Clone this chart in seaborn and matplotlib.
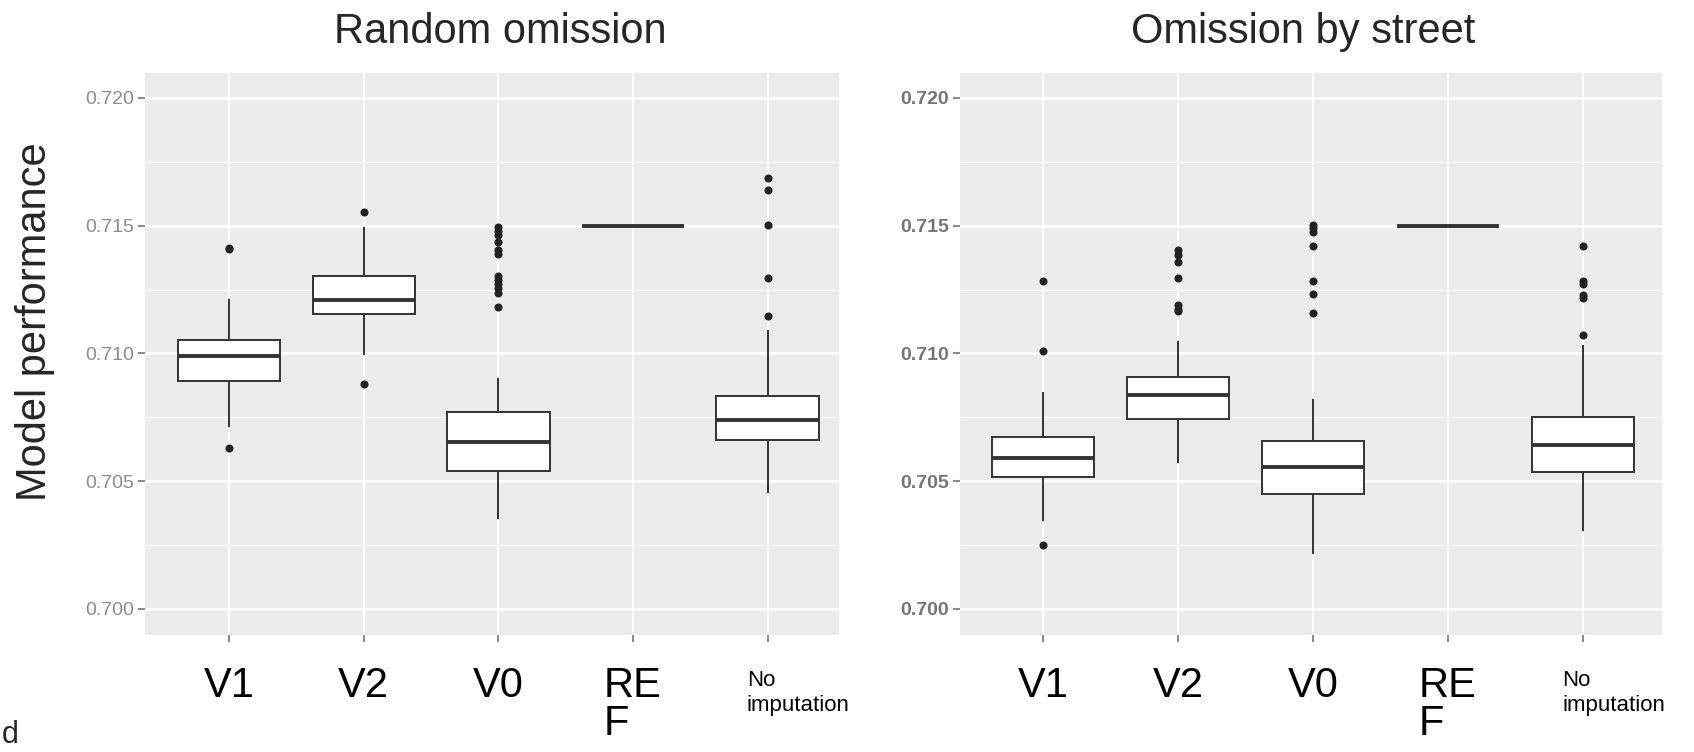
import numpy as np
import pandas as pd
import seaborn as sns
import matplotlib.pyplot as plt
from matplotlib.transforms import ScaledTranslation
from matplotlib.ticker import MultipleLocator

# categories and panel titles
cats = ["V1", "V2", "V0", "REF", "No imputation"]
tick_labels = ["V1", "V2", "V0", "RE\nF", "No\nimputation"]
titles = ["Random omission", "Omission by street"]

# box stats per category: whisker low, Q1, median, Q3, whisker high
random_stats = [
    [0.70712, 0.70892, 0.70990, 0.71054, 0.71212],   # V1
    [0.70994, 0.71155, 0.71209, 0.71302, 0.71493],   # V2
    [0.70353, 0.70541, 0.70653, 0.70772, 0.70904],   # V0
    [0.71500, 0.71500, 0.71500, 0.71500, 0.71500],   # REF
    [0.70453, 0.70661, 0.70739, 0.70832, 0.71092],   # No imputation
]
street_stats = [
    [0.70344, 0.70517, 0.70592, 0.70674, 0.70847],
    [0.70569, 0.70743, 0.70836, 0.70908, 0.71050],
    [0.70213, 0.70449, 0.70554, 0.70656, 0.70821],
    [0.71500, 0.71500, 0.71500, 0.71500, 0.71500],
    [0.70306, 0.70536, 0.70641, 0.70749, 0.71032],
]

# outliers per category
random_out = [
    [0.71407, 0.71412, 0.70629],
    [0.71554, 0.70881],
    [0.71494, 0.71480, 0.71465, 0.71437, 0.71405, 0.71390,
     0.71302, 0.71287, 0.71270, 0.71255, 0.71236, 0.71182],
    [],
    [0.71685, 0.71640, 0.71502, 0.71294, 0.71147],
]
street_out = [
    [0.71284, 0.71009, 0.70251],
    [0.71404, 0.71385, 0.71359, 0.71294, 0.71190, 0.71175, 0.71165],
    [0.71503, 0.71489, 0.71474, 0.71419, 0.71284, 0.71231, 0.71159],
    [],
    [0.71419, 0.71285, 0.71270, 0.71230, 0.71215, 0.71072],
]


def long_form(groups):
    rows = [(c, v) for c, vals in zip(cats, groups) for v in vals]
    return pd.DataFrame(rows, columns=["method", "perf"])


sns.set_style("darkgrid", {"axes.facecolor": "#EBEBEB", "grid.color": "white",
                           "axes.edgecolor": "#EBEBEB"})
plt.rcParams["font.family"] = ["Liberation Sans", "DejaVu Sans"]

fig = plt.figure(figsize=(16.94, 7.52), dpi=100)
ax_l = fig.add_axes([0.0856, 0.1556, 0.4097, 0.7477])
ax_r = fig.add_axes([0.5667, 0.1556, 0.4144, 0.7477])

panels = [
    (ax_l, random_stats, random_out, (-0.624, 4.53), "#8c8c8c", "normal"),
    (ax_r, street_stats, street_out, (-0.615, 4.585), "#747474", "bold"),
]

for ax, stats, outs, xlim, tcol, tweight in panels:
    sns.boxplot(data=long_form(stats), x="method", y="perf", order=cats,
                whis=(0, 100), showfliers=False, width=0.76,
                color="white", linecolor="#333333", linewidth=1.4,
                medianprops={"linewidth": 2.8},
                capprops={"visible": False}, ax=ax)
    sns.stripplot(data=long_form(outs), x="method", y="perf", order=cats,
                  jitter=False, color="#222222", size=5.8, ax=ax)

    ax.set_xlim(*xlim)
    ax.set_ylim(0.69897, 0.72099)
    ax.yaxis.set_major_locator(MultipleLocator(0.005))
    ax.yaxis.set_minor_locator(MultipleLocator(0.0025))
    ax.grid(which="major", axis="y", color="white", linewidth=2.0)
    ax.grid(which="major", axis="x", color="white", linewidth=1.5)
    ax.grid(which="minor", axis="y", color="white", linewidth=1.0)
    ax.set_axisbelow(True)
    ax.set_xlabel("")
    ax.set_ylabel("")
    for s in ax.spines.values():
        s.set_visible(False)

    ax.set_yticks(ax.get_yticks())
    ax.set_yticklabels([f"{t:.3f}" for t in ax.get_yticks()])
    ax.set_ylim(0.69897, 0.72099)
    ax.tick_params(axis="y", which="major", left=True, length=5, width=1.5,
                   color="#8c8c8c", pad=3, labelsize=14, labelcolor=tcol)
    ax.tick_params(axis="y", which="minor", left=False, length=0)
    for lab in ax.get_yticklabels():
        lab.set_fontweight(tweight)

    ax.set_xticks(range(len(cats)), tick_labels)
    ax.tick_params(axis="x", bottom=True, length=5, width=1.5, color="#8c8c8c",
                   pad=17, labelsize=30, labelcolor="black")

for ax in (ax_l, ax_r):
    labs = ax.get_xticklabels()
    labs[3].set_multialignment("left")
    labs[3].set_linespacing(0.95)
    labs[4].set_fontsize(16)
    labs[4].set_horizontalalignment("left")
    labs[4].set_multialignment("left")
    labs[4].set_linespacing(1.3)
    labs[4].set_transform(labs[4].get_transform()
                          + ScaledTranslation(-0.21, -0.04, fig.dpi_scale_trans))

fig.text(0.2952, 0.9428, titles[0], ha="center", va="baseline", fontsize=30)
fig.text(0.7692, 0.9428, titles[1], ha="center", va="baseline", fontsize=30)
fig.text(0.0207, 0.572, "Model performance", rotation=90,
         ha="center", va="center", fontsize=30)
fig.text(0.001, 0.012, "d", ha="left", va="baseline", fontsize=22)

fig.savefig("out.png", dpi=100)
